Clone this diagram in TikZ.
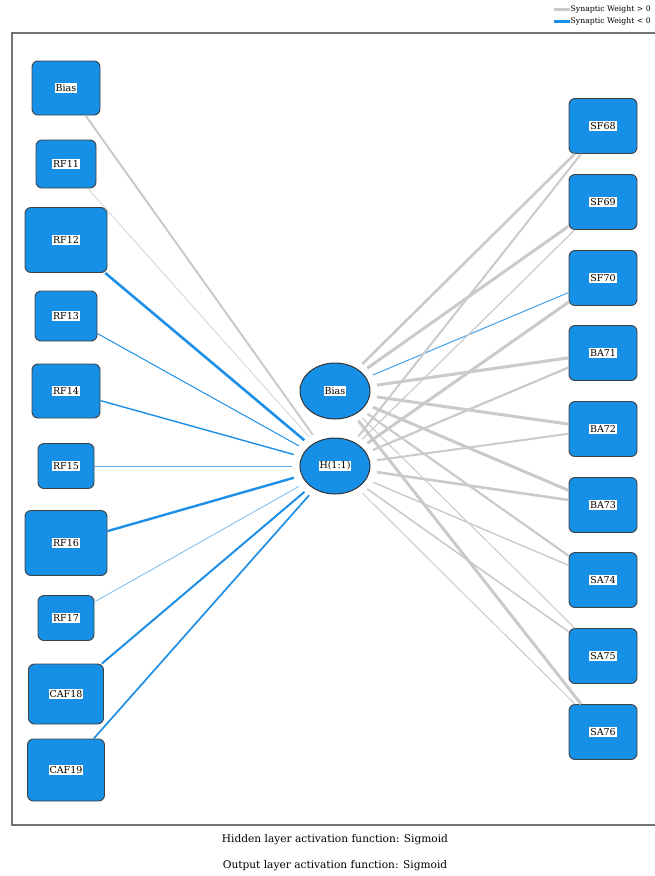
\documentclass[tikz,border=0pt]{standalone}
\usepackage{fontspec}
\setmainfont{DejaVu Serif}
\usetikzlibrary{shapes.geometric}
\definecolor{nodeblue}{HTML}{1690E6}
\definecolor{posw}{HTML}{CACACA}
\definecolor{negw}{HTML}{1E8FE6}
\tikzset{unit/.style 2 args={draw=black!75,fill=nodeblue,rounded corners=6pt,line width=0.9pt,
    minimum width=#1pt,minimum height=#2pt,inner sep=0pt},
  hid/.style={draw=black!80,fill=nodeblue,ellipse,minimum width=70pt,minimum height=56pt,line width=1pt,inner sep=0pt},
  pos/.style={draw=posw,line width=#1pt},
  neg/.style={draw=negw,line width=#1pt},
  toh/.style={shorten >=8pt},
  fromh/.style={shorten <=7pt}}
\newcommand{\lbl}[1]{{\setlength{\fboxsep}{1pt}\colorbox{white}{\fontsize{9.5}{10}\selectfont #1}}}

\begin{document}
\begin{tikzpicture}[x=1pt,y=-1pt]
\useasboundingbox (0,0) rectangle (654,876);
% legend
\draw[pos=3] (554,9) coordinate (lg1) -- (570,9) coordinate (lg2);
\draw[neg=3] (554,21) coordinate (lb1) -- (570,21) coordinate (lb2);
\node[anchor=west,inner sep=0.5pt,font=\fontsize{7.7}{8}\selectfont] (tpos) at (lg2) {Synaptic Weight > 0};
\node[anchor=west,inner sep=0.5pt,font=\fontsize{7.7}{8}\selectfont] (tneg) at (lb2) {Synaptic Weight < 0};
% frame
\draw[black!55,line width=1.5pt] (12,33) rectangle (670,825);
% input layer
\node[unit={68}{54}] (bI) at (66,88) {\lbl{Bias}};
\node[unit={60}{48}] (rf11) at (66,164) {\lbl{RF11}};
\node[unit={82}{65}] (rf12) at (66,240) {\lbl{RF12}};
\node[unit={62}{50}] (rf13) at (66,316) {\lbl{RF13}};
\node[unit={68}{54}] (rf14) at (66,391) {\lbl{RF14}};
\node[unit={56}{45}] (rf15) at (66,466) {\lbl{RF15}};
\node[unit={82}{65}] (rf16) at (66,543) {\lbl{RF16}};
\node[unit={56}{45}] (rf17) at (66,618) {\lbl{RF17}};
\node[unit={75}{60}] (caf18) at (66,694) {\lbl{CAF18}};
\node[unit={77}{62}] (caf19) at (66,770) {\lbl{CAF19}};
% hidden layer
\node[hid] (hB) at (335,391) {\lbl{Bias}};
\node[hid] (h1) at (335,466) {\lbl{H(1:1)}};
% output layer
\node[unit={68}{55}] (sf68) at (603,126) {\lbl{SF68}};
\node[unit={68}{55}] (sf69) at (603,202) {\lbl{SF69}};
\node[unit={68}{55}] (sf70) at (603,278) {\lbl{SF70}};
\node[unit={68}{55}] (ba71) at (603,353) {\lbl{BA71}};
\node[unit={68}{55}] (ba72) at (603,429) {\lbl{BA72}};
\node[unit={68}{55}] (ba73) at (603,505) {\lbl{BA73}};
\node[unit={68}{55}] (sa74) at (603,580) {\lbl{SA74}};
\node[unit={68}{55}] (sa75) at (603,656) {\lbl{SA75}};
\node[unit={68}{55}] (sa76) at (603,732) {\lbl{SA76}};
% input -> hidden
\draw[pos=2,toh] (bI) -- (h1);
\draw[pos=1,toh,draw=posw!70] (rf11) -- (h1);
\draw[neg=2.6,toh] (rf12) -- (h1);
\draw[neg=1,toh] (rf13) -- (h1);
\draw[neg=1.4,toh] (rf14) -- (h1);
\draw[neg=1,toh,draw=negw!75] (rf15) -- (h1);
\draw[neg=2.4,toh] (rf16) -- (h1);
\draw[neg=0.9,toh,draw=negw!55] (rf17) -- (h1);
\draw[neg=2,toh] (caf18) -- (h1);
\draw[neg=1.7,toh] (caf19) -- (h1);
% hidden -> output
\draw[pos=2.6,fromh] (hB) -- (sf68);
\draw[pos=3,fromh] (hB) -- (sf69);
\draw[neg=1,fromh,draw=negw!85] (hB) -- (sf70);
\draw[pos=3,fromh] (hB) -- (ba71);
\draw[pos=3,fromh] (hB) -- (ba72);
\draw[pos=3,fromh] (hB) -- (ba73);
\draw[pos=2.2,fromh] (hB) -- (sa74);
\draw[pos=1,fromh] (hB) -- (sa75);
\draw[pos=3,fromh] (hB) -- (sa76);
\draw[pos=2,fromh] (h1) -- (sf68);
\draw[pos=1.2,fromh] (h1) -- (sf69);
\draw[pos=3,fromh] (h1) -- (sf70);
\draw[pos=2.2,fromh] (h1) -- (ba71);
\draw[pos=2,fromh] (h1) -- (ba72);
\draw[pos=2.6,fromh] (h1) -- (ba73);
\draw[pos=1.4,fromh] (h1) -- (sa74);
\draw[pos=1.6,fromh] (h1) -- (sa75);
\draw[pos=1,fromh] (h1) -- (sa76);
% activation functions
\node[font=\fontsize{10.6}{12}\selectfont] (acth) at (335,840) {Hidden layer activation function: Sigmoid};
\node[font=\fontsize{10.6}{12}\selectfont] (acto) at (335,866) {Output layer activation function: Sigmoid};
\end{tikzpicture}
\end{document}
